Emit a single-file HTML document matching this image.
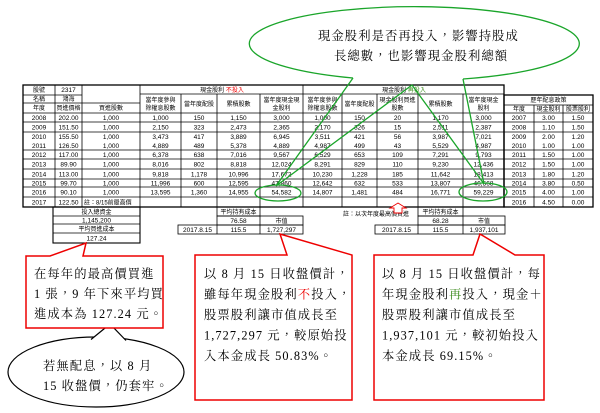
<!DOCTYPE html>
<html><head><meta charset="utf-8"><style>
html,body{margin:0;padding:0;background:#fff;width:600px;height:413px;overflow:hidden}
svg{display:block}
.t{font-family:"Liberation Sans","Noto Sans CJK TC",sans-serif;font-size:6px;fill:#000;text-anchor:middle}
.n{font-family:"Liberation Sans",sans-serif;font-size:6.5px;fill:#000;text-anchor:middle}
.c{font-family:"Liberation Serif","Noto Serif CJK TC",serif;font-size:12.3px;fill:#000;letter-spacing:1.1px}
</style></head><body>
<svg width="600" height="413" viewBox="0 0 600 413" xmlns="http://www.w3.org/2000/svg">
<g stroke="#000" stroke-width="0.8" fill="none">
<rect x="23" y="85" width="481" height="122" stroke-width="1.3"/>
<line x1="23" y1="95" x2="82" y2="95"/><line x1="23" y1="103" x2="140" y2="103"/>
<line x1="140" y1="94" x2="504" y2="94"/>
<line x1="23" y1="113" x2="504" y2="113"/><line x1="23" y1="122" x2="504" y2="122"/>
<line x1="23" y1="132" x2="504" y2="132"/><line x1="23" y1="150" x2="504" y2="150"/>
<line x1="23" y1="159" x2="504" y2="159"/><line x1="23" y1="169" x2="504" y2="169"/>
<line x1="23" y1="179" x2="504" y2="179"/><line x1="23" y1="187" x2="504" y2="187"/>
<line x1="23" y1="197" x2="504" y2="197"/>
<line x1="55" y1="85" x2="55" y2="207"/><line x1="82" y1="85" x2="82" y2="207"/>
<line x1="140" y1="85" x2="140" y2="207"/><line x1="303" y1="85" x2="303" y2="207"/>
<line x1="181" y1="94" x2="181" y2="207"/><line x1="217" y1="94" x2="217" y2="207"/>
<line x1="260" y1="94" x2="260" y2="207"/><line x1="342" y1="94" x2="342" y2="207"/>
<line x1="377" y1="94" x2="377" y2="207"/><line x1="418" y1="94" x2="418" y2="207"/>
<line x1="463" y1="94" x2="463" y2="207"/>
<rect x="504" y="95" width="89" height="112" stroke-width="1.3"/>
<line x1="504" y1="105" x2="593" y2="105"/>
<line x1="504" y1="113" x2="593" y2="113"/><line x1="504" y1="122" x2="593" y2="122"/>
<line x1="504" y1="132" x2="593" y2="132"/><line x1="504" y1="150" x2="593" y2="150"/>
<line x1="504" y1="159" x2="593" y2="159"/><line x1="504" y1="169" x2="593" y2="169"/>
<line x1="504" y1="179" x2="593" y2="179"/><line x1="504" y1="187" x2="593" y2="187"/>
<line x1="504" y1="197" x2="593" y2="197"/>
<line x1="534" y1="105" x2="534" y2="207"/><line x1="563" y1="105" x2="563" y2="207"/>
<rect x="53" y="207" width="87" height="36" stroke-width="1.1"/>
<line x1="53" y1="216" x2="140" y2="216"/><line x1="53" y1="224" x2="140" y2="224"/><line x1="53" y1="233" x2="140" y2="233"/>
<rect x="217" y="207" width="43" height="9"/>
<rect x="217" y="216" width="86" height="9"/><line x1="260" y1="216" x2="260" y2="234"/>
<rect x="178" y="225" width="125" height="9"/><line x1="217" y1="225" x2="217" y2="234"/>
<rect x="418" y="207" width="45" height="9"/>
<rect x="418" y="216" width="87" height="9"/><line x1="463" y1="216" x2="463" y2="234"/>
<rect x="375" y="225" width="130" height="9"/><line x1="418" y1="225" x2="418" y2="234"/>
</g>

<text class="t" x="39" y="92">股號</text><text class="n" x="68.5" y="92">2317</text>
<text class="t" x="39" y="101">名稱</text><text class="t" x="68.5" y="101">鴻海</text>
<text class="t" x="39" y="110">年度</text><text class="t" x="68.5" y="110">買進價格</text><text class="t" x="111" y="110">買進股數</text>
<text class="t" x="222" y="92">現金股利 <tspan fill="#e00">不投入</tspan></text>
<text class="t" x="404" y="92">現金股利 <tspan fill="#3a8a1a">再投入</tspan></text>
<text class="t" x="160.5" y="102">當年度參與</text><text class="t" x="160.5" y="110">除權息股數</text>
<text class="t" x="199" y="106">當年度配股</text><text class="t" x="238.5" y="106">累積股數</text>
<text class="t" x="281.5" y="102">當年度現金現</text><text class="t" x="281.5" y="110">金股利</text>
<text class="t" x="322.5" y="102">當年度參與</text><text class="t" x="322.5" y="110">除權息股數</text>
<text class="t" x="359.5" y="106">當年度配股</text>
<text class="t" x="397.5" y="102">現金股利買進</text><text class="t" x="397.5" y="110">股數</text>
<text class="t" x="440.5" y="106">累積股數</text>
<text class="t" x="483.5" y="102">當年度現金</text><text class="t" x="483.5" y="110">股利</text>
<text class="t" x="548.5" y="102">歷年配息政策</text>
<text class="t" x="519" y="111">年度</text><text class="t" x="548.5" y="111">現金股利</text><text class="t" x="578" y="111">股票股利</text>

<g>
<text class="n" x="39" y="120">2008</text><text class="n" x="68.5" y="120">202.00</text><text class="n" x="111" y="120">1,000</text><text class="n" x="160.5" y="120">1,000</text><text class="n" x="199" y="120">150</text><text class="n" x="238.5" y="120">1,150</text><text class="n" x="281.5" y="120">3,000</text><text class="n" x="322.5" y="120">1,000</text><text class="n" x="359.5" y="120">150</text><text class="n" x="397.5" y="120">20</text><text class="n" x="440.5" y="120">1,170</text><text class="n" x="483.5" y="120">3,000</text><text class="n" x="519" y="120">2007</text><text class="n" x="548.5" y="120">3.00</text><text class="n" x="578" y="120">1.50</text>
<text class="n" x="39" y="129.5">2009</text><text class="n" x="68.5" y="129.5">151.50</text><text class="n" x="111" y="129.5">1,000</text><text class="n" x="160.5" y="129.5">2,150</text><text class="n" x="199" y="129.5">323</text><text class="n" x="238.5" y="129.5">2,473</text><text class="n" x="281.5" y="129.5">2,365</text><text class="n" x="322.5" y="129.5">2,170</text><text class="n" x="359.5" y="129.5">326</text><text class="n" x="397.5" y="129.5">15</text><text class="n" x="440.5" y="129.5">2,511</text><text class="n" x="483.5" y="129.5">2,387</text><text class="n" x="519" y="129.5">2008</text><text class="n" x="548.5" y="129.5">1.10</text><text class="n" x="578" y="129.5">1.50</text>
<text class="n" x="39" y="139">2010</text><text class="n" x="68.5" y="139">155.50</text><text class="n" x="111" y="139">1,000</text><text class="n" x="160.5" y="139">3,473</text><text class="n" x="199" y="139">417</text><text class="n" x="238.5" y="139">3,889</text><text class="n" x="281.5" y="139">6,945</text><text class="n" x="322.5" y="139">3,511</text><text class="n" x="359.5" y="139">421</text><text class="n" x="397.5" y="139">56</text><text class="n" x="440.5" y="139">3,987</text><text class="n" x="483.5" y="139">7,021</text><text class="n" x="519" y="139">2009</text><text class="n" x="548.5" y="139">2.00</text><text class="n" x="578" y="139">1.20</text>
<text class="n" x="39" y="148">2011</text><text class="n" x="68.5" y="148">126.50</text><text class="n" x="111" y="148">1,000</text><text class="n" x="160.5" y="148">4,889</text><text class="n" x="199" y="148">489</text><text class="n" x="238.5" y="148">5,378</text><text class="n" x="281.5" y="148">4,889</text><text class="n" x="322.5" y="148">4,987</text><text class="n" x="359.5" y="148">499</text><text class="n" x="397.5" y="148">43</text><text class="n" x="440.5" y="148">5,529</text><text class="n" x="483.5" y="148">4,987</text><text class="n" x="519" y="148">2010</text><text class="n" x="548.5" y="148">1.00</text><text class="n" x="578" y="148">1.00</text>
<text class="n" x="39" y="157">2012</text><text class="n" x="68.5" y="157">117.00</text><text class="n" x="111" y="157">1,000</text><text class="n" x="160.5" y="157">6,378</text><text class="n" x="199" y="157">638</text><text class="n" x="238.5" y="157">7,016</text><text class="n" x="281.5" y="157">9,567</text><text class="n" x="322.5" y="157">6,529</text><text class="n" x="359.5" y="157">653</text><text class="n" x="397.5" y="157">109</text><text class="n" x="440.5" y="157">7,291</text><text class="n" x="483.5" y="157">9,793</text><text class="n" x="519" y="157">2011</text><text class="n" x="548.5" y="157">1.50</text><text class="n" x="578" y="157">1.00</text>
<text class="n" x="39" y="166.5">2013</text><text class="n" x="68.5" y="166.5">89.90</text><text class="n" x="111" y="166.5">1,000</text><text class="n" x="160.5" y="166.5">8,016</text><text class="n" x="199" y="166.5">802</text><text class="n" x="238.5" y="166.5">8,818</text><text class="n" x="281.5" y="166.5">12,024</text><text class="n" x="322.5" y="166.5">8,291</text><text class="n" x="359.5" y="166.5">829</text><text class="n" x="397.5" y="166.5">110</text><text class="n" x="440.5" y="166.5">9,230</text><text class="n" x="483.5" y="166.5">12,436</text><text class="n" x="519" y="166.5">2012</text><text class="n" x="548.5" y="166.5">1.50</text><text class="n" x="578" y="166.5">1.00</text>
<text class="n" x="39" y="176.5">2014</text><text class="n" x="68.5" y="176.5">113.00</text><text class="n" x="111" y="176.5">1,000</text><text class="n" x="160.5" y="176.5">9,818</text><text class="n" x="199" y="176.5">1,178</text><text class="n" x="238.5" y="176.5">10,996</text><text class="n" x="281.5" y="176.5">17,672</text><text class="n" x="322.5" y="176.5">10,230</text><text class="n" x="359.5" y="176.5">1,228</text><text class="n" x="397.5" y="176.5">185</text><text class="n" x="440.5" y="176.5">11,642</text><text class="n" x="483.5" y="176.5">18,413</text><text class="n" x="519" y="176.5">2013</text><text class="n" x="548.5" y="176.5">1.80</text><text class="n" x="578" y="176.5">1.20</text>
<text class="n" x="39" y="185.5">2015</text><text class="n" x="68.5" y="185.5">99.70</text><text class="n" x="111" y="185.5">1,000</text><text class="n" x="160.5" y="185.5">11,996</text><text class="n" x="199" y="185.5">600</text><text class="n" x="238.5" y="185.5">12,595</text><text class="n" x="281.5" y="185.5">47,860</text><text class="n" x="322.5" y="185.5">12,642</text><text class="n" x="359.5" y="185.5">632</text><text class="n" x="397.5" y="185.5">533</text><text class="n" x="440.5" y="185.5">13,807</text><text class="n" x="483.5" y="185.5">46,568</text><text class="n" x="519" y="185.5">2014</text><text class="n" x="548.5" y="185.5">3.80</text><text class="n" x="578" y="185.5">0.50</text>
<text class="n" x="39" y="194.5">2016</text><text class="n" x="68.5" y="194.5">90.10</text><text class="n" x="111" y="194.5">1,000</text><text class="n" x="160.5" y="194.5">13,595</text><text class="n" x="199" y="194.5">1,360</text><text class="n" x="238.5" y="194.5">14,955</text><text class="n" x="281.5" y="194.5">54,582</text><text class="n" x="322.5" y="194.5">14,807</text><text class="n" x="359.5" y="194.5">1,481</text><text class="n" x="397.5" y="194.5">484</text><text class="n" x="440.5" y="194.5">16,771</text><text class="n" x="483.5" y="194.5">59,229</text><text class="n" x="519" y="194.5">2015</text><text class="n" x="548.5" y="194.5">4.00</text><text class="n" x="578" y="194.5">1.00</text>
<text class="n" x="39" y="204.5">2017</text><text class="n" x="68.5" y="204.5">122.50</text><text class="n" x="519" y="204.5">2016</text><text class="n" x="548.5" y="204.5">4.50</text><text class="n" x="578" y="204.5">0.00</text>
</g>
<text class="t" x="84" y="204.5" style="text-anchor:start">註：8/15前最高價</text>

<text class="t" x="96.5" y="214">投入總資金</text><text class="n" x="96.5" y="222.5">1,145,200</text>
<text class="t" x="96.5" y="231">平均買進成本</text><text class="n" x="96.5" y="240.5">127.24</text>
<text class="t" x="238.5" y="214">平均持有成本</text><text class="n" x="238.5" y="223">76.58</text><text class="t" x="281.5" y="223">市值</text>
<text class="n" x="197.5" y="232">2017.8.15</text><text class="n" x="238.5" y="232">115.5</text><text class="n" x="281.5" y="232">1,727,297</text>
<text class="t" x="343" y="216" style="text-anchor:start">註：以次年度最高價買進</text>
<text class="t" x="440.5" y="214">平均持有成本</text><text class="n" x="440.5" y="223">68.28</text><text class="t" x="484" y="223">市值</text>
<text class="n" x="396.5" y="232">2017.8.15</text><text class="n" x="440.5" y="232">115.5</text><text class="n" x="484" y="232">1,937,101</text>
<polygon points="398,203 406,208 402,208 402,213 394,213 394,208 390,208" fill="#fff" stroke="#e00" stroke-width="0.9"/>

<g stroke="#1aa52a" stroke-width="1.3" fill="none">
<ellipse cx="278" cy="193" rx="23" ry="8"/>
<ellipse cx="483" cy="192" rx="24" ry="9"/>
<path d="M353,78 A165,37 0 1 1 463,79"/>
<polyline points="353,78 276,186 412,85 484,184 463,79"/>
</g>
<text class="c" x="318" y="40">現金股利是否再投入，影響持股成</text>
<text class="c" x="334" y="60">長總數，也影響現金股利總額</text>

<ellipse cx="96" cy="372" rx="88" ry="35" fill="#fff" stroke="#000" stroke-width="1.2"/>
<polygon points="91,340 110,324 126,341" fill="#fff" stroke="none"/>
<polyline points="91,339.5 110,324 126,340.5" fill="none" stroke="#000" stroke-width="1.2"/>
<text class="c" x="43" y="370">若無配息，以 8 月</text>
<text class="c" x="43" y="390">15 收盤價，仍套牢。</text>

<g fill="#fff" stroke="#e00" stroke-width="1.5">
<polygon points="26,256 50,256 86,243 83,256 163,256 163,328 26,328"/>
<polygon points="195,255 287,255 280,234 352,255 352,400 195,400"/>
<polygon points="374,255 473,255 480,234 515,255 544,255 544,400 374,400"/>
</g>
<text class="c" x="34" y="278">在每年的最高價買進</text>
<text class="c" x="34" y="298">1 張，9 年下來平均買</text>
<text class="c" x="34" y="318">進成本為 127.24 元。</text>

<text class="c" x="204" y="278">以 8 月 15 日收盤價計，</text>
<text class="c" x="204" y="298.5">雖每年現金股利<tspan fill="#e00">不</tspan>投入，</text>
<text class="c" x="204" y="319">股票股利讓市值成長至</text>
<text class="c" x="204" y="339.5">1,727,297 元，較原始投</text>
<text class="c" x="204" y="360">入本金成長 50.83%。</text>

<text class="c" x="382" y="278">以 8 月 15 日收盤價計，每</text>
<text class="c" x="382" y="298.5">年現金股利<tspan fill="#3a8a1a">再</tspan>投入，現金＋</text>
<text class="c" x="382" y="319">股票股利讓市值成長至</text>
<text class="c" x="382" y="339.5">1,937,101 元，較初始投入</text>
<text class="c" x="382" y="360">本金成長 69.15%。</text>
</svg>
</body></html>
